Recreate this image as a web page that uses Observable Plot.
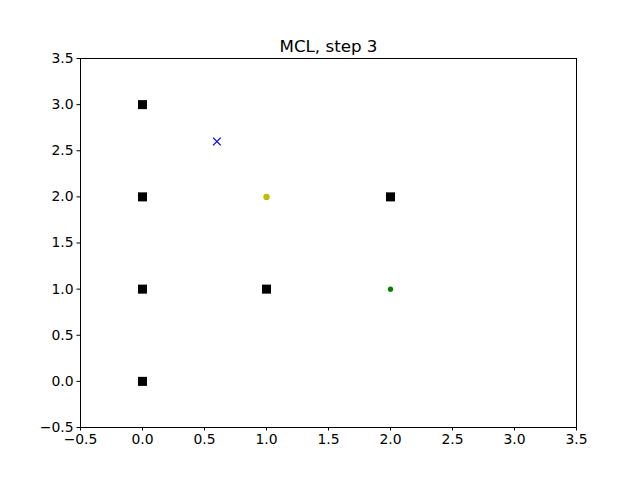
<!DOCTYPE html>
<html><head><meta charset="utf-8">
<script src="https://cdn.jsdelivr.net/npm/d3@7"></script>
<script src="https://cdn.jsdelivr.net/npm/@observablehq/plot@0.6"></script>
<style>body{margin:0;background:#fff}</style>
</head><body><div id="chart"></div>
<script>
const title = "MCL, step 3";
const squareX = [0, 0, 0, 0, 1, 2];
const squareY = [3, 2, 1, 0, 1, 2];
const crossX = [0.6];
const crossY = [2.6];
const yellowX = [1];
const yellowY = [2];
const greenX = [2];
const greenY = [1];
const ticks = [-0.5, 0, 0.5, 1, 1.5, 2, 2.5, 3, 3.5];

const pts = (xs, ys) => xs.map((x, i) => ({x, y: ys[i]}));

const chart = Plot.plot({
  width: 640, height: 480,
  marginLeft: 80, marginRight: 64, marginTop: 58, marginBottom: 53,
  style: {fontFamily: "DejaVu Sans", fontSize: "13.9px", background: "#fff", color: "#000"},
  x: {domain: [-0.5, 3.5], ticks, tickFormat: d3.format(".1f"), tickSize: 3.5, tickPadding: 3.5, label: null},
  y: {domain: [-0.5, 3.5], ticks, tickFormat: d3.format(".1f"), tickSize: 3.5, tickPadding: 3.5, label: null},
  marks: [
    Plot.frame({stroke: "#000", strokeWidth: 1}),
    Plot.dot(pts(squareX, squareY), {x: "x", y: "y", symbol: "square", r: 5.1, fill: "#000", stroke: "none"}),
    Plot.dot(pts(crossX, crossY), {x: "x", y: "y", symbol: "times", r: 3.6, stroke: "#0000ff", strokeWidth: 1.3}),
    Plot.dot(pts(yellowX, yellowY), {x: "x", y: "y", r: 3.2, fill: "#bfbf00", stroke: "none"}),
    Plot.dot(pts(greenX, greenY), {x: "x", y: "y", r: 2.6, fill: "#008000", stroke: "none"}),
    Plot.text([title], {frameAnchor: "top", dy: -7, fontSize: 16.7, fill: "#000", lineAnchor: "bottom"})
  ]
});
document.getElementById("chart").appendChild(chart);
</script>
</body></html>
